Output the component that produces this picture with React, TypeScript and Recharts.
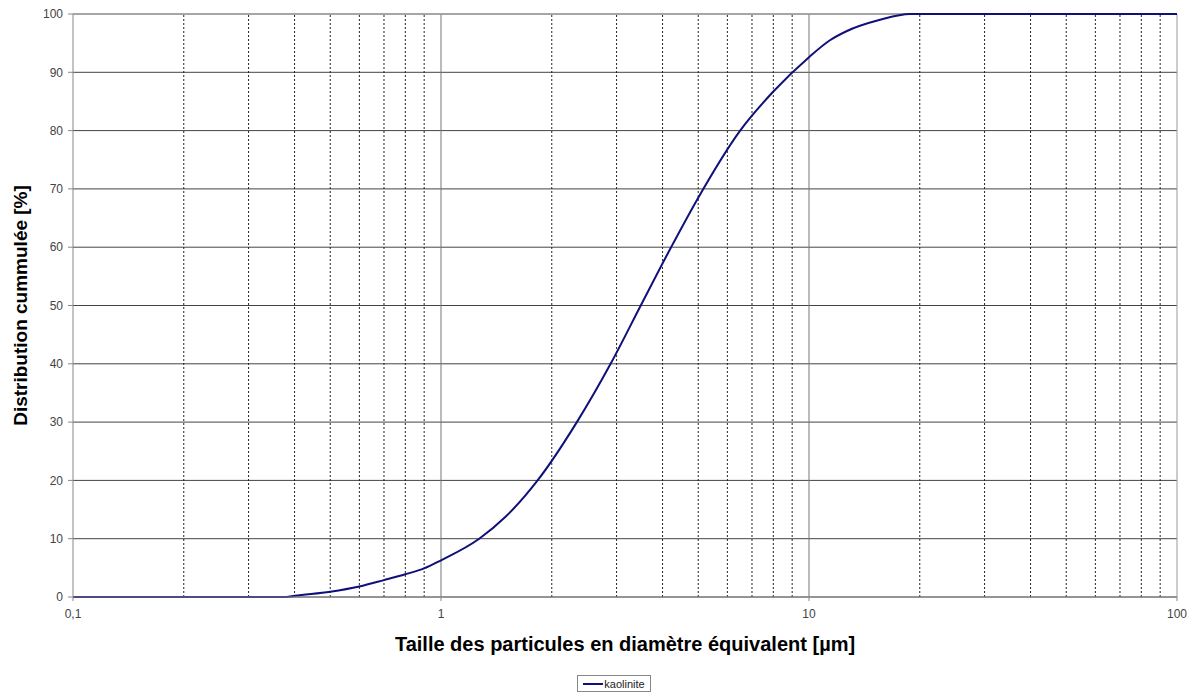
import React from 'react'
import {
  LineChart,
  Line,
  XAxis,
  YAxis,
  CartesianGrid,
  ReferenceLine,
  Label,
} from 'recharts'

// diamètre équivalent [µm] / distribution cumulée [%]
const diametres = [
  0.1, 0.2, 0.3, 0.38, 0.4, 0.5, 0.6, 0.7, 0.8, 0.9, 1, 1.27, 1.5, 1.83, 2.34, 2.89, 3.49, 4.22,
  4.97, 6.5, 8, 10, 11.4, 12.6, 15.6, 18.8, 30, 50, 100,
]
const kaolinite = [
  0, 0, 0, 0, 0.2, 0.9, 1.8, 2.9, 3.9, 4.9, 6.3, 10, 13.8, 20, 30, 40, 50, 60, 68.2, 80, 86.7,
  92.6, 95.5, 97, 99, 100, 100, 100, 100,
]

const xTicks = [0.1, 1, 10, 100]
const yTicks = [0, 10, 20, 30, 40, 50, 60, 70, 80, 90, 100]
const majorLines = [1, 10]
const minorLines = [
  0.2, 0.3, 0.4, 0.5, 0.6, 0.7, 0.8, 0.9, 2, 3, 4, 5, 6, 7, 8, 9, 20, 30, 40, 50, 60, 70, 80, 90,
]

const data = diametres.map((d, i) => ({ d, v: kaolinite[i] }))

const FONT = '"Liberation Sans", Arial, sans-serif'
const NAVY = '#10107a'

const YTitle = ({ viewBox }: any) => {
  const cx = 20
  const cy = viewBox.y + viewBox.height / 2
  return (
    <text
      x={cx}
      y={cy}
      transform={`rotate(-90 ${cx} ${cy})`}
      textAnchor="middle"
      dominantBaseline="central"
      style={{ fontSize: 19, fontWeight: 'bold', fill: '#000', fontFamily: FONT }}
    >
      Distribution cummulée [%]
    </text>
  )
}

export default function App() {
  return (
    <div
      style={{
        position: 'absolute',
        left: 0,
        top: 0,
        width: 1193,
        height: 693,
        background: '#fff',
        fontFamily: FONT,
      }}
    >
      <LineChart
        width={1193}
        height={693}
        data={data}
        margin={{ top: 14, right: 16, bottom: 36, left: 0 }}
      >
        <CartesianGrid vertical={false} stroke="#444" strokeWidth={1} />
        {minorLines.map((x) => (
          <ReferenceLine
            key={'m' + x}
            x={x}
            stroke="#222"
            strokeDasharray="2 2"
            strokeWidth={1}
          />
        ))}
        {majorLines.map((x) => (
          <ReferenceLine key={'M' + x} x={x} stroke="#777" strokeWidth={1} />
        ))}
        <ReferenceLine y={100} stroke="#aaa" strokeWidth={1} />
        <ReferenceLine x={100} stroke="#999" strokeWidth={1} />
        <XAxis
          dataKey="d"
          type="number"
          scale="log"
          domain={[0.1, 100]}
          ticks={xTicks}
          allowDataOverflow
          height={60}
          stroke="#888"
          tickSize={4}
          tickMargin={8}
          tick={{ fill: '#444', fontSize: 12, fontFamily: FONT }}
          tickFormatter={(v: number) => String(v).replace('.', ',')}
        >
          <Label
            value="Taille des particules en diamètre équivalent [µm]"
            position="insideBottom"
            offset={6}
            style={{ fontSize: 20, fontWeight: 'bold', fill: '#000', fontFamily: FONT }}
          />
        </XAxis>
        <YAxis
          type="number"
          domain={[0, 100]}
          ticks={yTicks}
          width={73}
          stroke="#888"
          tickSize={5}
          tickMargin={5}
          tick={{ fill: '#444', fontSize: 12, fontFamily: FONT }}
        >
          <Label content={YTitle} />
        </YAxis>
        <Line
          type="monotone"
          dataKey="v"
          stroke={NAVY}
          strokeWidth={2}
          dot={false}
          isAnimationActive={false}
        />
      </LineChart>
      <div
        style={{
          position: 'absolute',
          left: 577,
          top: 675,
          width: 74,
          height: 17,
          border: '1px solid #888',
          boxSizing: 'border-box',
          display: 'flex',
          alignItems: 'center',
          justifyContent: 'center',
          fontSize: 11,
          color: '#222',
          fontFamily: FONT,
        }}
      >
        <span
          style={{
            display: 'inline-block',
            width: 20,
            height: 2,
            background: NAVY,
            marginRight: 1,
          }}
        />
        kaolinite
      </div>
    </div>
  )
}
